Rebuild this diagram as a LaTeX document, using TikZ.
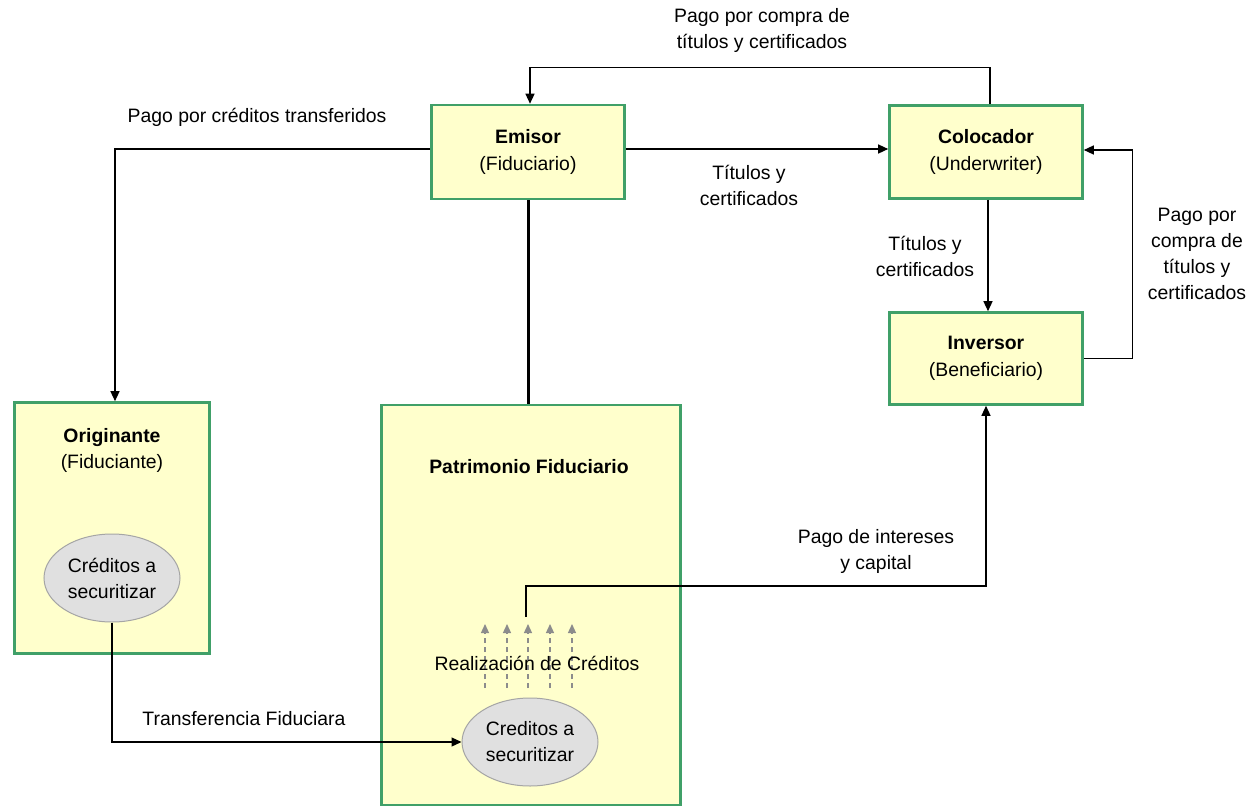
\documentclass[tikz,border=0pt]{standalone}
\usepackage{fontspec}
\setmainfont{Liberation Sans}
\usetikzlibrary{arrows.meta,calc,shapes.geometric}
\definecolor{boxfill}{RGB}{255,255,204}
\definecolor{boxline}{RGB}{64,160,104}
\definecolor{ovalfill}{RGB}{224,224,224}
\definecolor{ovalline}{RGB}{165,165,165}
\definecolor{dashgray}{RGB}{140,140,140}
\tikzset{
  party/.style={draw=boxline, fill=boxfill, line width=2.6pt, inner sep=0pt,
                align=center, font=\fontsize{19.4}{27}\selectfont},
  oval/.style={ellipse, draw=ovalline, fill=ovalfill, line width=1pt,
               minimum width=136pt, minimum height=88pt, inner sep=0pt,
               align=center, font=\fontsize{19.4}{26}\selectfont},
  lbl/.style={align=center, font=\fontsize{19.4}{26}\selectfont, inner sep=0pt},
  arr/.style={-{Triangle[length=10pt,width=9pt]}, line width=1.3pt},
  realiz/.style={dashgray, dashed, dash pattern=on 5pt off 4pt, line width=1.3pt,
                 -{Triangle[length=9pt,width=8pt]}}
}
\begin{document}
\begin{tikzpicture}[x=1pt,y=-1pt]
\useasboundingbox (0,0) rectangle (1254,806);

% parties of the operation
\node[party, minimum width=193pt, minimum height=94pt] (emisor) at (528,152)
  {\textbf{Emisor}\\(Fiduciario)};
\node[party, minimum width=193pt, minimum height=93pt] (coloc) at (986,152)
  {\textbf{Colocador}\\(Underwriter)};
\node[party, minimum width=193pt, minimum height=92pt] (inv) at (986,358.5)
  {\textbf{Inversor}\\(Beneficiario)};
\node[party, minimum width=195pt, minimum height=251pt] (orig) at (112,528) {};
\node[party, minimum width=299pt, minimum height=400pt] (patr) at (531,605) {};

\node[lbl] (origtxt) at (112,450) {\textbf{Originante}\\(Fiduciante)};
\node[lbl] (patrtxt) at (529,467) {\textbf{Patrimonio Fiduciario}};

% credits to be securitized
\node[oval] (cred1) at (112,578) {Créditos a\\securitizar};
\node[oval] (cred2) at (530,742) {Creditos a\\securitizar};

% credit realization arrows
\foreach \xx/\nm in {485/ra,507/rb,528/rc,550/rd,572/re}{
  \coordinate (\nm0) at (\xx,688);
  \coordinate (\nm1) at (\xx,624);
  \draw[realiz] (\nm0) -- (\nm1);
}
\node[lbl] (realtxt) at (537,663) {Realización de Créditos};

% flows
\draw[arr] ([yshift=3pt]emisor.west) -| ([xshift=3pt]orig.north);
\node[lbl] (l1) at (257,117) {Pago por créditos transferidos};

\draw[arr] ([yshift=3pt]emisor.east) -- ([yshift=3pt]coloc.west);
\node[lbl] (l2) at (749,185) {Títulos y\\certificados};

\draw[arr] ([xshift=4pt]coloc.north) -- ++(0,-37) -| ([xshift=2pt]emisor.north);
\node[lbl] (l3) at (762,30) {Pago por compra de\\títulos y certificados};

\draw[arr] ([xshift=2pt]coloc.south) -- ([xshift=2pt]inv.north);
\node[lbl] (l4) at (925,256) {Títulos y\\certificados};

\draw[arr] (inv.east) -- ++(49,0) |- ([yshift=2pt]coloc.east);
\node[lbl] (l5) at (1197,254) {Pago por\\compra de\\títulos y\\certificados};

\draw[line width=3pt] (emisor.south) -- (emisor.south |- patr.north);

\draw[arr] (cred1.south) |- (cred2.west);
\node[lbl] (l6) at (244,719) {Transferencia Fiduciara};

\coordinate (pago) at (526,617);
\draw[arr] (pago) -- ++(0,-31) -| (inv.south);
\node[lbl] (l7) at (876,551) {Pago de intereses\\y capital};
\end{tikzpicture}
\end{document}
